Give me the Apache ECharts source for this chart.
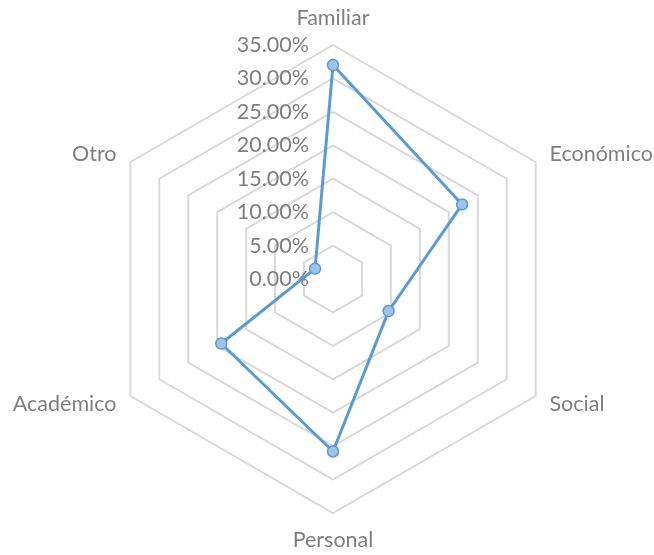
<!DOCTYPE html>
<html>
<head>
<meta charset="utf-8">
<script src="https://cdn.jsdelivr.net/npm/echarts@6/dist/echarts.min.js"></script>
<style>
  html, body { margin: 0; padding: 0; background: #fff; }
  #chart { width: 654px; height: 555px; }
</style>
</head>
<body>
<div id="chart"></div>
<script>
// categories in Excel (clockwise) order, starting at the top
const categories = ['Familiar', 'Económico', 'Social', 'Personal', 'Académico', 'Otro']
const values = [32.0, 22.3, 9.6, 25.8, 19.3, 3.1]
const tickValues = [0, 5, 10, 15, 20, 25, 30, 35]

// echarts lays radar indicators counter-clockwise, so walk the list backwards after the first
const order = [0, 5, 4, 3, 2, 1]
const gray = '#7f7f7f'
const font = 'Lato, "Open Sans", sans-serif'

const chart = echarts.init(document.getElementById('chart'))
chart.setOption({
  animation: false,
  textStyle: { fontFamily: font },
  radar: {
    center: [333, 279],
    radius: 234,
    startAngle: 90,
    shape: 'polygon',
    splitNumber: tickValues.length - 1,
    indicator: order.map((i) => ({ name: categories[i], min: 0, max: tickValues[tickValues.length - 1] })),
    nameGap: 16,
    axisName: { color: gray, fontSize: 21.5, fontFamily: font },
    axisLine: { show: false },
    axisTick: { show: false },
    axisLabel: { show: false },
    splitArea: { show: false },
    splitLine: { lineStyle: { color: '#d9d9d9', width: 2 } },
  },
  grid: { left: 333, top: 45, width: 1, height: 234 },
  xAxis: { type: 'value', show: false },
  yAxis: {
    type: 'value',
    min: 0,
    max: tickValues[tickValues.length - 1],
    interval: 5,
    axisLine: { show: false },
    axisTick: { show: false },
    splitLine: { show: false },
    axisLabel: {
      color: gray,
      fontSize: 21.5,
      fontFamily: font,
      margin: 24,
      formatter: (v) => v.toFixed(2) + '%',
    },
  },
  series: [{
    type: 'radar',
    symbol: 'circle',
    symbolSize: 11,
    lineStyle: { color: '#5b9bd5', width: 3 },
    itemStyle: { color: '#9dc3e6', borderColor: '#5b9bd5', borderWidth: 1.5 },
    data: [{ value: order.map((i) => values[i]) }],
  }],
})
</script>
</body>
</html>
